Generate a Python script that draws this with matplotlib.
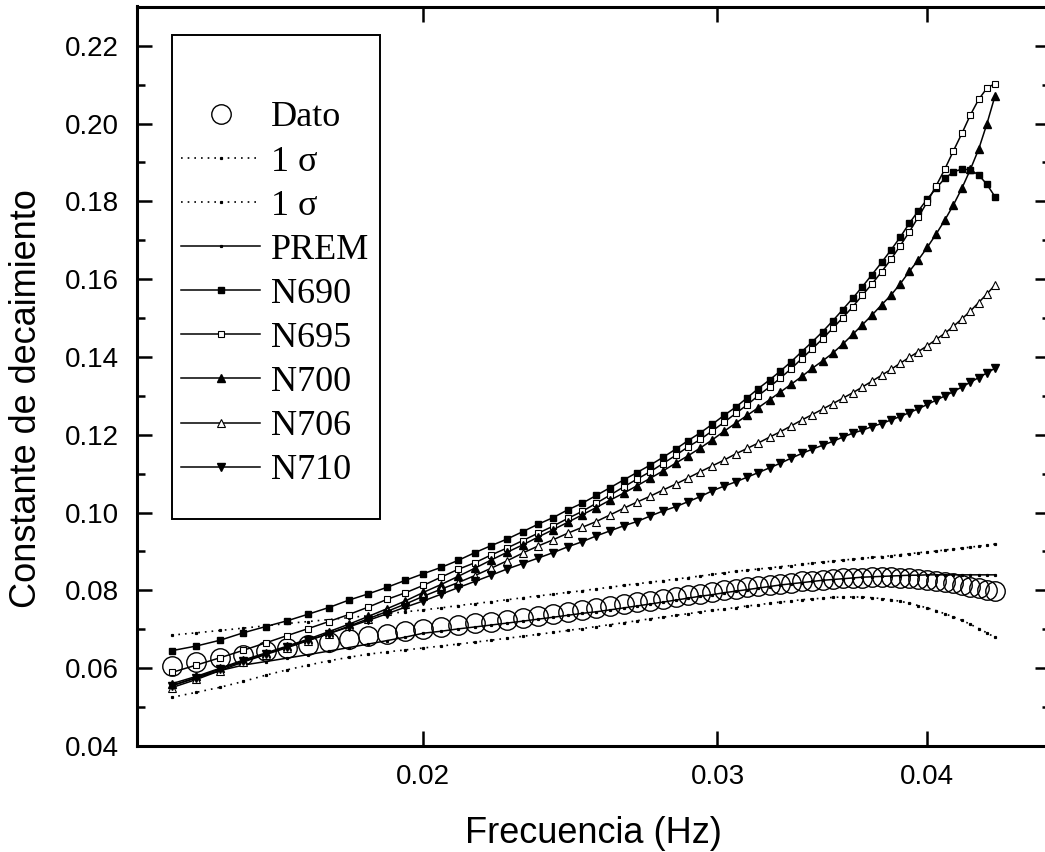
import numpy as np
import matplotlib
matplotlib.use('Agg')
import matplotlib.pyplot as plt
from matplotlib.ticker import FixedLocator, NullLocator, MultipleLocator, FormatStrFormatter
from matplotlib.patches import Rectangle

plt.rcParams['font.family'] = ['Liberation Sans', 'DejaVu Sans']

# frequency bins (k / 2048 Hz)
freq_bins = np.arange(29, 91)
freq = freq_bins / 2048.0

dato = [0.0606, 0.0616, 0.0625, 0.0634, 0.0643, 0.0651, 0.0659, 0.0667, 0.0675, 0.0682,
        0.0689, 0.0695, 0.0700, 0.0705, 0.0710, 0.0715, 0.0720, 0.0725, 0.0730, 0.0735,
        0.0739, 0.0744, 0.0749, 0.0754, 0.0759, 0.0764, 0.0769, 0.0773, 0.0778, 0.0783,
        0.0788, 0.0792, 0.0796, 0.0800, 0.0804, 0.0808, 0.0811, 0.0814, 0.0817, 0.0820,
        0.0823, 0.0825, 0.0827, 0.0829, 0.0831, 0.0832, 0.0833, 0.0834, 0.0834, 0.0834,
        0.0833, 0.0832, 0.0830, 0.0828, 0.0825, 0.0822, 0.0818, 0.0814, 0.0810, 0.0806,
        0.0802, 0.0798]

sigma_up = [0.0685, 0.0691, 0.0697, 0.0703, 0.0709, 0.0715, 0.0720, 0.0725, 0.0730, 0.0735,
            0.0740, 0.0745, 0.0750, 0.0755, 0.0761, 0.0766, 0.0771, 0.0776, 0.0781, 0.0786,
            0.0790, 0.0795, 0.0799, 0.0804, 0.0808, 0.0813, 0.0817, 0.0821, 0.0825, 0.0829,
            0.0833, 0.0837, 0.0841, 0.0845, 0.0849, 0.0852, 0.0855, 0.0858, 0.0861, 0.0864,
            0.0867, 0.0870, 0.0873, 0.0875, 0.0878, 0.0880, 0.0882, 0.0885, 0.0887, 0.0889,
            0.0892, 0.0894, 0.0897, 0.0899, 0.0901, 0.0904, 0.0906, 0.0909, 0.0911, 0.0914,
            0.0916, 0.0919]

sigma_low = [0.0525, 0.0538, 0.0551, 0.0566, 0.0582, 0.0596, 0.0608, 0.0619, 0.0628, 0.0636,
             0.0642, 0.0647, 0.0652, 0.0657, 0.0662, 0.0667, 0.0672, 0.0677, 0.0682, 0.0687,
             0.0692, 0.0697, 0.0702, 0.0707, 0.0712, 0.0717, 0.0722, 0.0727, 0.0731, 0.0736,
             0.0740, 0.0745, 0.0749, 0.0752, 0.0756, 0.0760, 0.0763, 0.0767, 0.0770, 0.0773,
             0.0776, 0.0778, 0.0780, 0.0782, 0.0783, 0.0783, 0.0783, 0.0781, 0.0779, 0.0776,
             0.0772, 0.0767, 0.0761, 0.0755, 0.0748, 0.0740, 0.0732, 0.0723, 0.0713, 0.0702,
             0.0691, 0.0679]

prem = [0.0555, 0.0575, 0.0594, 0.0608, 0.0617, 0.0626, 0.0635, 0.0644, 0.0653, 0.0662,
        0.0671, 0.0680, 0.0690, 0.0695, 0.0701, 0.0706, 0.0711, 0.0716, 0.0721, 0.0726,
        0.0731, 0.0736, 0.0741, 0.0745, 0.0750, 0.0755, 0.0760, 0.0765, 0.0770, 0.0775,
        0.0780, 0.0785, 0.0789, 0.0794, 0.0798, 0.0802, 0.0806, 0.0810, 0.0814, 0.0817,
        0.0820, 0.0823, 0.0826, 0.0828, 0.0830, 0.0832, 0.0834, 0.0835, 0.0836, 0.0837,
        0.0838, 0.0839, 0.0839, 0.0840, 0.0840, 0.0840, 0.0840, 0.0840, 0.0840, 0.0840,
        0.0840, 0.0840]

n690 = [0.0645, 0.0657, 0.0672, 0.0691, 0.0707, 0.0722, 0.0739, 0.0756, 0.0775, 0.0791,
        0.0808, 0.0826, 0.0843, 0.0859, 0.0877, 0.0897, 0.0915, 0.0932, 0.0951, 0.0970,
        0.0987, 0.1007, 0.1024, 0.1044, 0.1064, 0.1084, 0.1103, 0.1122, 0.1142, 0.1163,
        0.1185, 0.1205, 0.1227, 0.1250, 0.1271, 0.1295, 0.1319, 0.1341, 0.1364, 0.1388,
        0.1414, 0.1439, 0.1465, 0.1493, 0.1522, 0.1551, 0.1581, 0.1612, 0.1643, 0.1675,
        0.1708, 0.1744, 0.1776, 0.1806, 0.1834, 0.1859, 0.1876, 0.1883, 0.1881, 0.1868,
        0.1844, 0.1812]

n695 = [0.0589, 0.0608, 0.0627, 0.0646, 0.0665, 0.0684, 0.0702, 0.0720, 0.0738, 0.0757,
        0.0777, 0.0794, 0.0813, 0.0834, 0.0854, 0.0871, 0.0891, 0.0909, 0.0928, 0.0947,
        0.0965, 0.0985, 0.1003, 0.1024, 0.1045, 0.1066, 0.1086, 0.1105, 0.1126, 0.1147,
        0.1169, 0.1188, 0.1210, 0.1232, 0.1255, 0.1277, 0.1301, 0.1323, 0.1346, 0.1370,
        0.1396, 0.1421, 0.1447, 0.1474, 0.1501, 0.1529, 0.1559, 0.1588, 0.1619, 0.1651,
        0.1686, 0.1722, 0.1760, 0.1799, 0.1840, 0.1883, 0.1930, 0.1975, 0.2022, 0.2062,
        0.2091, 0.2103]

n700 = [0.0560, 0.0579, 0.0600, 0.0621, 0.0639, 0.0657, 0.0675, 0.0694, 0.0713, 0.0733,
        0.0753, 0.0773, 0.0795, 0.0815, 0.0836, 0.0857, 0.0878, 0.0898, 0.0917, 0.0937,
        0.0956, 0.0975, 0.0994, 0.1013, 0.1032, 0.1050, 0.1069, 0.1088, 0.1107, 0.1127,
        0.1146, 0.1166, 0.1187, 0.1209, 0.1230, 0.1250, 0.1270, 0.1290, 0.1310, 0.1330,
        0.1350, 0.1371, 0.1390, 0.1410, 0.1433, 0.1458, 0.1483, 0.1508, 0.1534, 0.1559,
        0.1588, 0.1620, 0.1650, 0.1682, 0.1716, 0.1752, 0.1791, 0.1834, 0.1882, 0.1934,
        0.1999, 0.2071]

n706 = [0.0550, 0.0571, 0.0594, 0.0616, 0.0635, 0.0653, 0.0671, 0.0689, 0.0708, 0.0727,
        0.0746, 0.0765, 0.0785, 0.0803, 0.0820, 0.0838, 0.0857, 0.0876, 0.0896, 0.0914,
        0.0930, 0.0947, 0.0962, 0.0977, 0.0994, 0.1011, 0.1027, 0.1042, 0.1058, 0.1073,
        0.1089, 0.1105, 0.1120, 0.1135, 0.1151, 0.1165, 0.1179, 0.1194, 0.1208, 0.1223,
        0.1238, 0.1252, 0.1266, 0.1280, 0.1294, 0.1308, 0.1323, 0.1338, 0.1353, 0.1368,
        0.1384, 0.1399, 0.1414, 0.1429, 0.1445, 0.1461, 0.1479, 0.1498, 0.1518, 0.1540,
        0.1562, 0.1585]

n710 = [0.0555, 0.0576, 0.0598, 0.0618, 0.0637, 0.0655, 0.0672, 0.0689, 0.0706, 0.0723,
        0.0740, 0.0757, 0.0773, 0.0790, 0.0807, 0.0823, 0.0839, 0.0855, 0.0869, 0.0883,
        0.0897, 0.0912, 0.0925, 0.0940, 0.0953, 0.0966, 0.0977, 0.0991, 0.1004, 0.1015,
        0.1028, 0.1041, 0.1056, 0.1068, 0.1079, 0.1091, 0.1103, 0.1115, 0.1127, 0.1140,
        0.1152, 0.1163, 0.1173, 0.1183, 0.1194, 0.1204, 0.1212, 0.1221, 0.1229, 0.1238,
        0.1247, 0.1257, 0.1267, 0.1278, 0.1289, 0.1300, 0.1311, 0.1323, 0.1335, 0.1347,
        0.1359, 0.1371]

fig = plt.figure(figsize=(10.45, 8.52), dpi=100)
ax = fig.add_axes([137/1045, 106/852, 913/1045, 739.5/852])

h = []
h += ax.plot(freq, dato, 'o', ms=14, mfc='none', mec='black', mew=1.0, label='Dato')
h += ax.plot(freq, sigma_up, color='black', ls=(0, (1, 3)), lw=1.2, marker='s', ms=1.3, label='1 σ')
h += ax.plot(freq, sigma_low, color='black', ls=(0, (1, 3)), lw=1.2, marker='s', ms=1.3, label='1 σ')
h += ax.plot(freq, prem, color='black', lw=1.1, marker='s', ms=1.3, label='PREM')
h += ax.plot(freq, n690, color='black', lw=1.1, marker='s', ms=5, mfc='black', mec='black', label='N690')
h += ax.plot(freq, n695, color='black', lw=1.1, marker='s', ms=5, mfc='white', mec='black', mew=0.8, label='N695')
h += ax.plot(freq, n700, color='black', lw=1.1, marker='^', ms=6, mfc='black', mec='black', label='N700')
h += ax.plot(freq, n706, color='black', lw=1.1, marker='^', ms=6, mfc='white', mec='black', mew=0.8, label='N706')
h += ax.plot(freq, n710, color='black', lw=1.1, marker='v', ms=6, mfc='black', mec='black', label='N710')

ax.set_xscale('log')
ax.set_xlim(0.0135, 0.0474)
ax.set_ylim(0.04, 0.2301)
ax.xaxis.set_major_locator(FixedLocator([0.02, 0.03, 0.04]))
ax.xaxis.set_major_formatter(FormatStrFormatter('%.2f'))
ax.xaxis.set_minor_locator(NullLocator())
ax.yaxis.set_major_locator(MultipleLocator(0.02))
ax.yaxis.set_minor_locator(MultipleLocator(0.01))
ax.yaxis.set_major_formatter(FormatStrFormatter('%.2f'))

for s in ax.spines.values():
    s.set_linewidth(2.2)
ax.tick_params(which='both', direction='in', top=True, right=True, width=1.8)
ax.tick_params(which='major', length=10.5, labelsize=20, pad=13)
ax.tick_params(which='minor', length=5.5)

ax.set_xlabel('Frecuencia (Hz)', fontsize=26)
ax.set_ylabel('Constante de decaimiento', fontsize=26)
ax.xaxis.set_label_coords(0.5, -0.095)
ax.yaxis.set_label_coords(-0.102, 0.47)

ax.add_patch(Rectangle((0.0387, 0.307), 0.2275, 0.654, transform=ax.transAxes,
                       fill=False, edgecolor='black', lw=1.4, zorder=5))
ax.legend(handles=h, loc='upper left', bbox_to_anchor=(0.048, 0.872), frameon=False,
          numpoints=1, handlelength=2.2, handletextpad=0.3, labelspacing=0.3,
          borderpad=0, borderaxespad=0,
          prop={'family': 'Liberation Serif', 'size': 26})

plt.savefig('out.png', dpi=100)
